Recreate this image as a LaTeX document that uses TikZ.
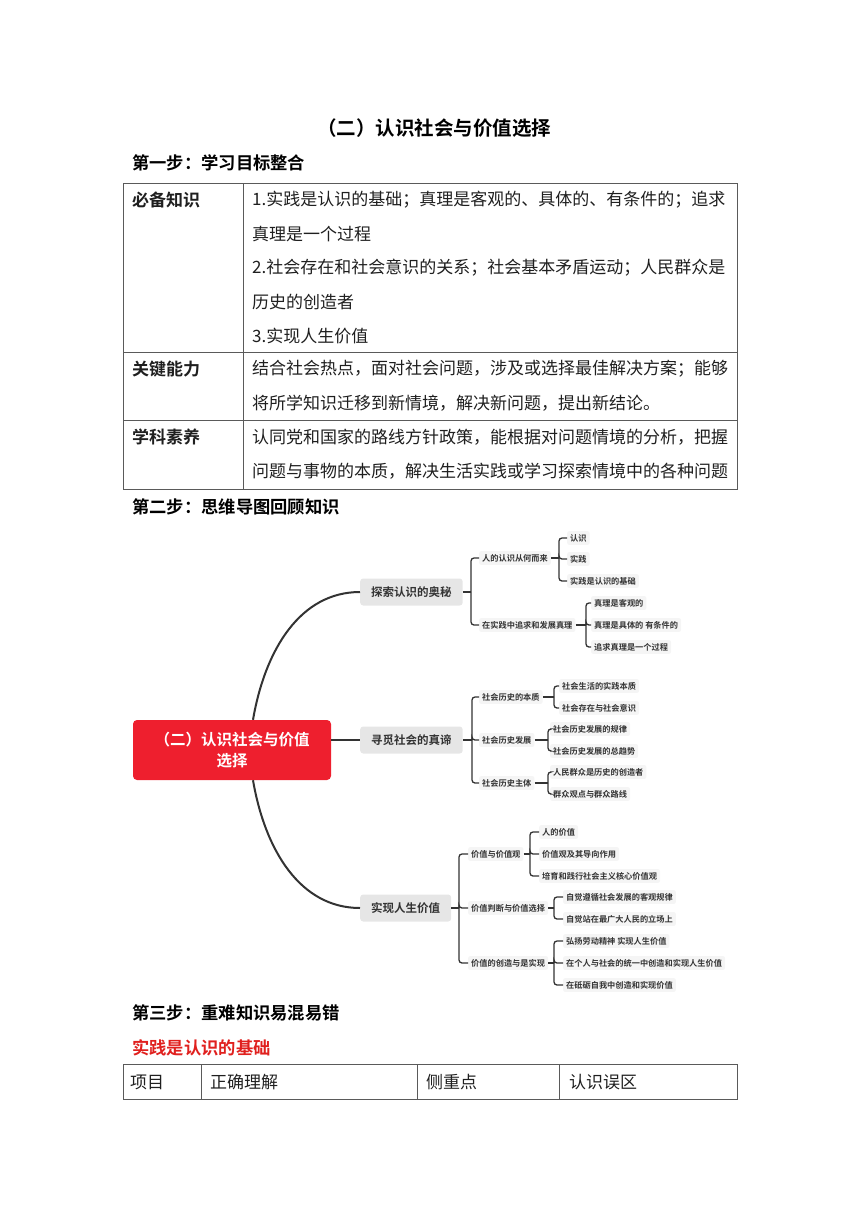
\documentclass[tikz,border=0pt]{standalone}
\usepackage{fontspec}
\setmainfont{Noto Sans CJK SC}[BoldFont={Noto Sans CJK SC Bold}]
\usepackage{xcolor}
\usepackage{tikz}
\definecolor{MAPred}{HTML}{EE1F2E}
\definecolor{MAPgray}{HTML}{E6E6E6}
\definecolor{MAPleaf}{HTML}{F5F5F5}
\definecolor{MAPdark}{HTML}{333333}
\definecolor{DOCrule}{HTML}{5A5A5A}
\definecolor{DOCred}{HTML}{E0201E}

\begin{document}
\begin{tikzpicture}[x=1pt, y=-1pt,
    heading/.style={anchor=west, inner sep=0, font=\fontsize{17.3}{20}\selectfont\bfseries},
    cell/.style={anchor=west, inner sep=0, text=black!88, font=\fontsize{17}{20}\selectfont},
    rule/.style={draw=DOCrule, line width=0.9pt},
    rootbox/.style={rectangle, fill=MAPred, rounded corners=4pt,
                    minimum width=198, minimum height=60, align=center,
                    text=white, font=\fontsize{15.5}{21.5}\selectfont\bfseries},
    topic/.style={rectangle, fill=MAPgray, rounded corners=3pt, anchor=west,
                  minimum height=27, inner xsep=11, inner ysep=0,
                  text=MAPdark, font=\fontsize{11.5}{14}\selectfont\bfseries},
    leaf/.style={rectangle, fill=MAPleaf, rounded corners=2pt, anchor=west,
                 inner xsep=3, inner ysep=3,
                 text=MAPdark, font=\fontsize{8.2}{10}\selectfont\bfseries},
    link/.style={draw=MAPdark, line width=2pt},
    branch/.style={draw=MAPdark, line width=1.3pt, rounded corners=3pt},
  ]
  \useasboundingbox (0,0) rectangle (860,1216);
  % page headings
  \node[font=\fontsize{19.5}{22}\selectfont\bfseries, inner sep=0] (title) at (434,128)
    {（二）认识社会与价值选择};
  \node[heading] (step1) at (132,163) {第一步：学习目标整合};
  \node[heading] (step2) at (132,507) {第二步：思维导图回顾知识};
  \node[heading] (step3) at (132,1013) {第三步：重难知识易混易错};
  \node[heading, text=DOCred] (sub1) at (132,1048) {实践是认识的基础};

  % goals table
  \draw[rule] (123,183) rectangle (737,489);
  \draw[rule] (243,183) -- (243,489);
  \draw[rule] (123,352) -- (737,352);
  \draw[rule] (123,420) -- (737,420);
  \node[cell, font=\fontsize{17}{20}\selectfont\bfseries] (lab1) at (132,200) {必备知识};
  \node[cell, font=\fontsize{17}{20}\selectfont\bfseries] (lab2) at (132,369) {关键能力};
  \node[cell, font=\fontsize{17}{20}\selectfont\bfseries] (lab3) at (132,437) {学科素养};
  \foreach \t [count=\i from 0] in {1.实践是认识的基础；真理是客观的、具体的、有条件的；追求,
      真理是一个过程, 2.社会存在和社会意识的关系；社会基本矛盾运动；人民群众是,
      历史的创造者, 3.实现人生价值}
    \node[cell] (r1-\i) at (252,{200+34*\i}) {\t};
  \node[cell] (r2-0) at (252,369) {结合社会热点，面对社会问题，涉及或选择最佳解决方案；能够};
  \node[cell] (r2-1) at (252,403) {将所学知识迁移到新情境，解决新问题，提出新结论。};
  \node[cell] (r3-0) at (252,437) {认同党和国家的路线方针政策，能根据对问题情境的分析，把握};
  \node[cell] (r3-1) at (252,471) {问题与事物的本质，解决生活实践或学习探索情境中的各种问题};

  % mind map
  \node[rootbox] (root) at (232,750) {（二）认识社会与价值\\选择};
  \node[topic] (t1) at (360,592) {探索认识的奥秘};
  \node[topic] (t2) at (360,740) {寻觅社会的真谛};
  \node[topic] (t3) at (360,908) {实现人生价值};
  \draw[link] ([xshift=21]root.north) .. controls (265,650) and (300,592) .. (t1.west);
  \draw[link] (t2.west -| root.east) -- (t2.west);
  \draw[link] ([xshift=21]root.south) .. controls (265,850) and (300,908) .. (t3.west);

  % branch 1
  \node[leaf] (k1a) at (479,558) {人的认识从何而来};
  \node[leaf] (k1b) at (479,625) {在实践中追求和发展真理};
  \node[leaf] (k1a1) at (567,538) {认识};
  \node[leaf] (k1a2) at (567,559) {实践};
  \node[leaf] (k1a3) at (567,581) {实践是认识的基础};
  \node[leaf] (k1b1) at (591,603) {真理是客观的};
  \node[leaf] (k1b2) at (591,625) {真理是具体的 有条件的};
  \node[leaf] (k1b3) at (591,647) {追求真理是一个过程};
  \coordinate (j1) at (471,592);
  \coordinate (j1a) at (559,558);
  \coordinate (j1b) at (586,625);
  \draw[branch] (t1.east) -- (j1);
  \foreach \c in {k1a,k1b} \draw[branch] (j1) |- (\c.west);
  \draw[branch] (k1a.east) -- (j1a);
  \foreach \c in {k1a1,k1a2,k1a3} \draw[branch] (j1a) |- (\c.west);
  \draw[branch] (k1b.east) -- (j1b);
  \foreach \c in {k1b1,k1b2,k1b3} \draw[branch] (j1b) |- (\c.west);

  % branch 2
  \node[leaf] (k2a) at (479,697) {社会历史的本质};
  \node[leaf] (k2b) at (479,740) {社会历史发展};
  \node[leaf] (k2c) at (479,783) {社会历史主体};
  \node[leaf] (k2a1) at (559,686) {社会生活的实践本质};
  \node[leaf] (k2a2) at (559,708) {社会存在与社会意识};
  \node[leaf] (k2b1) at (550,729) {社会历史发展的规律};
  \node[leaf] (k2b2) at (550,751) {社会历史发展的总趋势};
  \node[leaf] (k2c1) at (550,772) {人民群众是历史的创造者};
  \node[leaf] (k2c2) at (550,794) {群众观点与群众路线};
  \coordinate (j2) at (472,740);
  \coordinate (j2a) at (554,697);
  \coordinate (j2b) at (548,740);
  \coordinate (j2c) at (548,783);
  \draw[branch] (t2.east) -- (j2);
  \foreach \c in {k2a,k2b,k2c} \draw[branch] (j2) |- (\c.west);
  \draw[branch] (k2a.east) -- (j2a);
  \foreach \c in {k2a1,k2a2} \draw[branch] (j2a) |- (\c.west);
  \draw[branch] (k2b.east) -- (j2b);
  \foreach \c in {k2b1,k2b2} \draw[branch] (j2b) |- (\c.west);
  \draw[branch] (k2c.east) -- (j2c);
  \foreach \c in {k2c1,k2c2} \draw[branch] (j2c) |- (\c.west);

  % branch 3
  \node[leaf] (k3a) at (468,854) {价值与价值观};
  \node[leaf] (k3b) at (468,908) {价值判断与价值选择};
  \node[leaf] (k3c) at (468,963) {价值的创造与是实现};
  \node[leaf] (k3a1) at (539,832) {人的价值};
  \node[leaf] (k3a2) at (539,854) {价值观及其导向作用};
  \node[leaf] (k3a3) at (539,876) {培育和践行社会主义核心价值观};
  \node[leaf] (k3b1) at (563,897) {自觉遵循社会发展的客观规律};
  \node[leaf] (k3b2) at (563,919) {自觉站在最广大人民的立场上};
  \node[leaf] (k3c1) at (563,941) {弘扬劳动精神 实现人生价值};
  \node[leaf] (k3c2) at (563,963) {在个人与社会的统一中创造和实现人生价值};
  \node[leaf] (k3c3) at (563,985) {在砥砺自我中创造和实现价值};
  \coordinate (j3) at (459,908);
  \coordinate (j3a) at (530,854);
  \coordinate (j3b) at (554,908);
  \coordinate (j3c) at (554,963);
  \draw[branch] (t3.east) -- (j3);
  \foreach \c in {k3a,k3b,k3c} \draw[branch] (j3) |- (\c.west);
  \draw[branch] (k3a.east) -- (j3a);
  \foreach \c in {k3a1,k3a2,k3a3} \draw[branch] (j3a) |- (\c.west);
  \draw[branch] (k3b.east) -- (j3b);
  \foreach \c in {k3b1,k3b2} \draw[branch] (j3b) |- (\c.west);
  \draw[branch] (k3c.east) -- (j3c);
  \foreach \c in {k3c1,k3c2,k3c3} \draw[branch] (j3c) |- (\c.west);

  % key points table
  \draw[rule] (123,1064) rectangle (737,1099);
  \draw[rule] (201,1064) -- (201,1099);
  \draw[rule] (417,1064) -- (417,1099);
  \draw[rule] (559,1064) -- (559,1099);
  \node[cell] (h1) at (130,1082) {项目};
  \node[cell] (h2) at (210,1082) {正确理解};
  \node[cell] (h3) at (426,1082) {侧重点};
  \node[cell] (h4) at (569,1082) {认识误区};
\end{tikzpicture}
\end{document}
